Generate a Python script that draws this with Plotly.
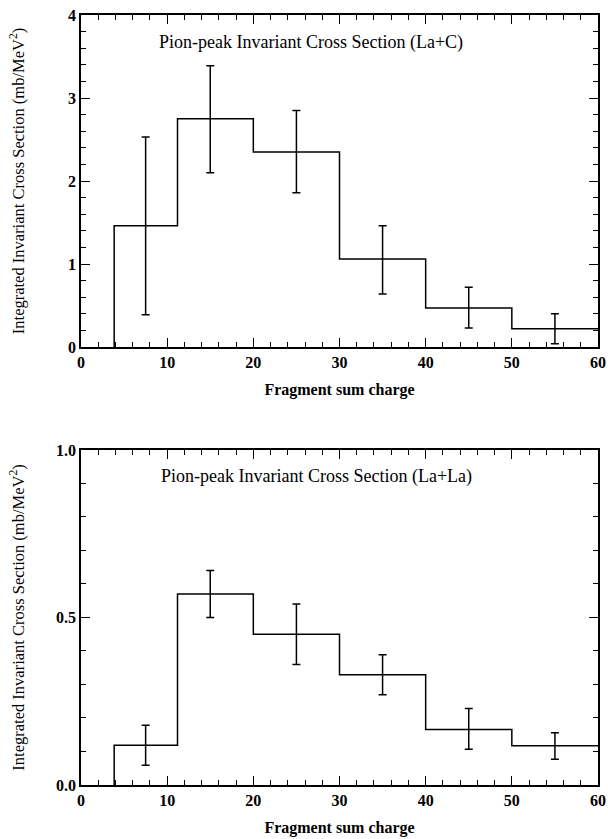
import plotly.graph_objects as go
from plotly.subplots import make_subplots

# ---- data ----
bin_edges = [3.85, 11.2, 20, 30, 40, 50, 60]
err_x = [7.5, 15, 25, 35, 45, 55]

lac_vals = [1.46, 2.75, 2.35, 1.06, 0.47, 0.22]
lac_hi = [2.53, 3.39, 2.85, 1.46, 0.72, 0.40]
lac_lo = [0.39, 2.10, 1.86, 0.64, 0.23, 0.04]

lala_vals = [0.119, 0.570, 0.450, 0.329, 0.166, 0.117]
lala_hi = [0.178, 0.640, 0.540, 0.389, 0.228, 0.156]
lala_lo = [0.059, 0.500, 0.360, 0.269, 0.107, 0.077]

title_top = "Pion-peak Invariant Cross Section (La+C)"
title_bot = "Pion-peak Invariant Cross Section (La+La)"
x_title = "Fragment sum charge"
y_title = "Integrated Invariant Cross Section (mb/MeV<sup>2</sup>)"

FONT = "Liberation Serif"

fig = make_subplots(rows=2, cols=1)


def add_hist(vals, hi, lo, row):
    xs = [bin_edges[0]] + bin_edges
    ys = [0] + vals + [vals[-1]]
    fig.add_trace(go.Scatter(x=xs, y=ys, mode="lines",
                             line=dict(shape="hv", color="black", width=1.5),
                             showlegend=False, hoverinfo="skip"), row=row, col=1)
    fig.add_trace(go.Scatter(
        x=err_x, y=vals, mode="markers",
        marker=dict(size=1, color="black", opacity=0),
        error_y=dict(type="data", symmetric=False,
                     array=[h - v for h, v in zip(hi, vals)],
                     arrayminus=[v - l for l, v in zip(lo, vals)],
                     color="black", thickness=1.5, width=4),
        showlegend=False), row=row, col=1)


add_hist(lac_vals, lac_hi, lac_lo, 1)
add_hist(lala_vals, lala_hi, lala_lo, 2)

xaxis_common = dict(
    range=[0, 60], tickmode="array", tickvals=[0, 10, 20, 30, 40, 50, 60],
    ticks="inside", ticklen=9, tickwidth=1.3, tickcolor="black",
    minor=dict(ticks="inside", dtick=2, ticklen=5, tickwidth=1.3, tickcolor="black"),
    showline=True, linecolor="black", linewidth=1.5, mirror="ticks",
    showgrid=False, zeroline=False, automargin=False,
    tickfont=dict(family=FONT, size=16, color="black", weight="bold"),
    title=dict(text=x_title, font=dict(family=FONT, size=16, color="black", weight="bold"), standoff=14),
)

fig.update_layout(
    width=608, height=839,
    margin=dict(l=81, r=10, t=15, b=54),
    paper_bgcolor="white", plot_bgcolor="white",
    font=dict(family=FONT, color="black"),
    xaxis=dict(domain=[0, 1], anchor="y", **xaxis_common),
    xaxis2=dict(domain=[0, 1], anchor="y2", **xaxis_common),
    yaxis=dict(
        domain=[0.5688, 1.0], anchor="x", range=[0, 4],
        tickmode="array", tickvals=[0, 1, 2, 3, 4],
        ticks="inside", ticklen=9, tickwidth=1.3, tickcolor="black",
        minor=dict(ticks="inside", dtick=0.2, ticklen=5, tickwidth=1.3, tickcolor="black"),
        showline=True, linecolor="black", linewidth=1.5, mirror="ticks",
        showgrid=False, zeroline=False, automargin=False,
        tickfont=dict(family=FONT, size=16, color="black", weight="bold"),
        title=dict(text=y_title, font=dict(family=FONT, size=16.5, color="black"), standoff=39),
    ),
    yaxis2=dict(
        domain=[0, 0.4351], anchor="x2", range=[0, 1],
        tickmode="array", tickvals=[0, 0.5, 1.0], ticktext=["0.0", "0.5", "1.0"],
        ticks="inside", ticklen=9, tickwidth=1.3, tickcolor="black",
        minor=dict(ticks="inside", dtick=0.1, ticklen=5, tickwidth=1.3, tickcolor="black"),
        showline=True, linecolor="black", linewidth=1.5, mirror="ticks",
        showgrid=False, zeroline=False, automargin=False,
        tickfont=dict(family=FONT, size=16, color="black", weight="bold"),
        title=dict(text=y_title, font=dict(family=FONT, size=16.5, color="black"), standoff=27),
    ),
)

fig.add_annotation(x=8.8, y=3.67, xref="x", yref="y", text=title_top, showarrow=False,
                   xanchor="left", yanchor="middle",
                   font=dict(family=FONT, size=18, color="black"))
fig.add_annotation(x=9.05, y=0.922, xref="x2", yref="y2", text=title_bot, showarrow=False,
                   xanchor="left", yanchor="middle",
                   font=dict(family=FONT, size=18, color="black"))

fig.write_html("out.html")
